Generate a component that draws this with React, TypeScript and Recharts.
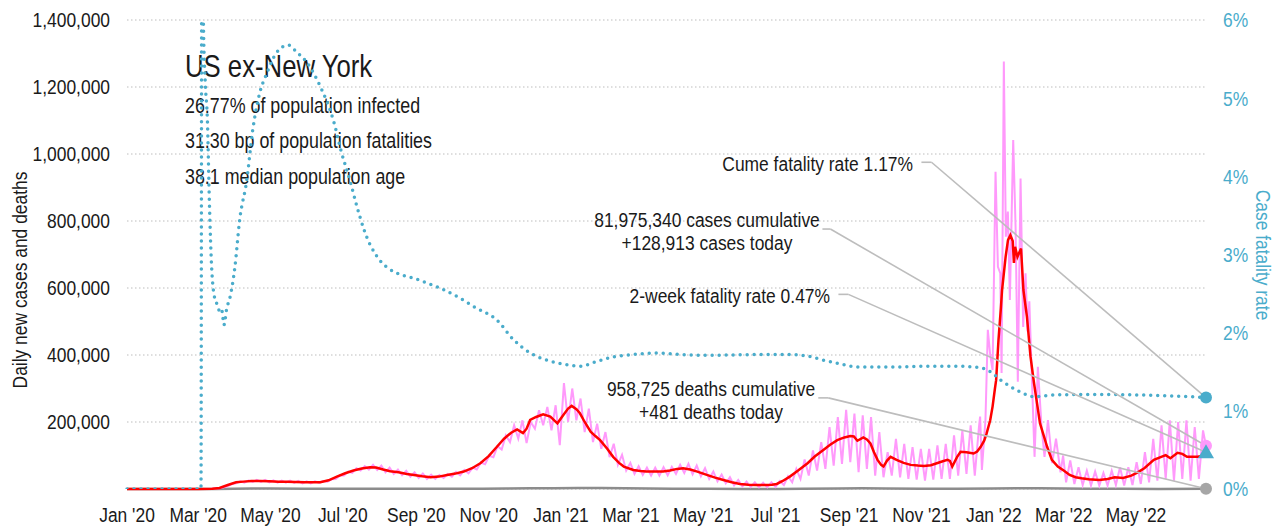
import React from 'react';
import {
  ComposedChart, Line, XAxis, YAxis, CartesianGrid,
  ReferenceLine, ReferenceDot, Customized,
} from 'recharts';

const FONT = "'Liberation Sans', Arial, sans-serif";
const SQUEEZE = 0.83;

// ---- axes ----
const xTickDays = [0, 60, 121, 182, 244, 305, 366, 425, 486, 547, 609, 670, 731, 790, 851];
const xTickLabels = ["Jan '20", "Mar '20", "May '20", "Jul '20", "Sep '20", "Nov '20", "Jan '21", "Mar '21", "May '21", "Jul '21", "Sep '21", "Nov '21", "Jan '22", "Mar '22", "May '22"];
const leftTicks = [0, 200000, 400000, 600000, 800000, 1000000, 1200000, 1400000];
const rightTicks = [0, 1, 2, 3, 4, 5, 6];
const LAST_DAY = 910;

// ---- 7-day average of daily cases (thousands) ----
const avgDays = [0, 60, 72, 78, 85, 92, 98, 105, 112, 120, 128, 135, 142, 150, 157, 163, 170, 177, 184, 191, 198, 205, 210, 216, 222, 229, 236, 242, 249, 256, 263, 270, 277, 284, 291, 298, 305, 312, 318, 324, 329, 334, 337, 340, 345, 351, 357, 363, 368, 372, 375, 379, 382, 386, 391, 395, 399, 405, 410, 415, 419, 427, 433, 438, 445, 452, 458, 464, 469, 475, 481, 489, 496, 503, 510, 517, 524, 531, 538, 544, 548, 553, 559, 566, 574, 580, 587, 593, 599, 605, 610, 613, 616, 621, 624, 627, 630, 633, 636, 638, 641, 644, 649, 655, 661, 667, 672, 678, 683, 688, 692, 694, 696, 700, 703, 708, 714, 717, 720, 723, 725, 728, 730, 732, 733, 735, 737, 738, 741, 743, 745, 747, 748, 749, 751, 754, 756, 759, 762, 765, 770, 776, 780, 785, 790, 795, 800, 805, 811, 820, 827, 833, 840, 847, 852, 858, 866, 876, 880, 886, 890, 894, 903, 910];
const avgCases = [0, 0, 1, 3, 12, 20, 22, 24, 24, 23, 22, 22, 21, 20, 20, 20, 26, 37, 47, 55, 61, 65, 64, 58, 53, 50, 45, 42, 38, 35, 37, 42, 46, 52, 62, 77, 98, 126, 150, 168, 178, 167, 180, 206, 215, 223, 216, 196, 221, 240, 248, 238, 226, 200, 171, 158, 146, 120, 96, 78, 67, 57, 54, 52, 52, 52, 55, 60, 62, 58, 52, 42, 34, 27, 20, 15, 13, 12, 12, 13, 15, 24, 37, 55, 77, 97, 116, 132, 146, 154, 158, 157, 144, 154, 148, 136, 110, 87, 72, 67, 85, 96, 87, 78, 72, 70, 69, 71, 77, 83, 87, 84, 67, 95, 111, 110, 106, 112, 126, 145, 166, 205, 246, 300, 325, 445, 540, 594, 693, 743, 758, 740, 675, 723, 693, 718, 594, 514, 395, 315, 196, 126, 87, 67, 55, 42, 35, 32, 29, 27, 30, 35, 33, 40, 49, 62, 87, 101, 92, 108, 105, 96, 96, 101];

// ---- daily new cases (thousands): weekly low / high readings ----
const dailyLowPre = [0, 0, 0, 0, 0, 0, 0, 0, 0, 0, 0.5, 2, 9, 17, 19, 21, 21, 20, 19, 19, 18, 17, 17, 18, 22, 30, 40, 48, 55, 58, 57, 50, 45, 41, 37, 33, 30, 30, 33, 37, 41, 47, 58, 74, 95, 118, 140, 150, 137, 180, 190, 175, 131, 200, 205, 170, 140, 120, 95, 72, 55, 45, 42, 40, 40, 41, 45, 48, 44, 38, 30, 23, 17, 11, 8, 6, 5, 5, 6, 12, 20, 30, 40, 55, 60, 70, 75, 80, 50, 60, 40, 35, 40, 35, 30, 28, 25, 28, 30, 30, 40, 45, 40];
const dailyHighPre = [0, 0, 0, 0, 0, 0, 0, 0, 0.1, 0.3, 1.5, 5, 15, 23, 25, 27, 27, 26, 25, 25, 24, 23, 23, 24, 29, 40, 52, 62, 68, 72, 70, 64, 58, 54, 50, 46, 43, 42, 45, 51, 57, 64, 79, 99, 128, 160, 190, 205, 200, 235, 245, 250, 316, 300, 270, 240, 195, 170, 135, 102, 78, 68, 64, 64, 65, 66, 72, 75, 70, 62, 52, 43, 35, 27, 22, 20, 19, 20, 24, 38, 60, 88, 115, 140, 185, 215, 236, 225, 220, 215, 170, 110, 150, 135, 125, 120, 120, 130, 135, 160, 175, 190, 185];
const omicronDays = [719.5, 721, 724, 726, 728, 730, 732.5, 734.5, 736.5, 737.6, 739.5, 741.2, 742.9, 744.6, 747.4, 749.4, 751.3, 753.6, 755.8, 757.8, 759.5, 761, 763, 765.4, 768.2, 771.3, 773.8, 776.7, 780.3, 783.5, 787.3, 789.5];
const omicronCases = [216, 57, 206, 475, 400, 355, 947, 663, 644, 346, 1276, 753, 828, 564, 1042, 783, 320, 927, 484, 644, 470, 560, 346, 96, 365, 186, 96, 206, 77, 150, 50, 100];
const dailyLowPost = [20, 15, 12, 10, 10, 10, 12, 10, 12, 15, 20, 25, 30, 25, 30, 25, 30];
const dailyHighPost = [85, 65, 55, 52, 48, 55, 65, 65, 80, 110, 150, 190, 205, 200, 205, 185, 175];
const casesToday = 128913;

// ---- cumulative case fatality rate (%) ----
const cfrDays = [0, 30, 62.4, 63.2, 64.4, 66, 67.8, 69.5, 71.5, 74.3, 76.5, 78.5, 80, 81.8, 84, 87, 91, 95, 101, 106, 112, 118, 126, 136, 143, 152, 163, 174, 181, 188, 194, 201, 211, 219, 247, 264, 281, 294, 312, 326, 340, 354, 371, 382, 396, 410, 427, 447, 467, 489, 532, 559, 574, 587, 602, 616, 644, 672, 700, 720, 728, 737, 745, 751, 758, 765, 779, 807, 863, 910];
const cfrPct = [0, 0, 0, 8.5, 6.0, 5.2, 4.72, 3.66, 2.8, 2.42, 2.35, 2.25, 2.28, 2.10, 2.3, 2.46, 2.84, 3.44, 3.95, 4.59, 5.07, 5.32, 5.58, 5.68, 5.59, 5.45, 5.15, 4.72, 4.30, 3.95, 3.61, 3.27, 2.97, 2.84, 2.67, 2.57, 2.44, 2.32, 2.16, 1.91, 1.74, 1.65, 1.59, 1.57, 1.63, 1.69, 1.72, 1.74, 1.72, 1.71, 1.72, 1.72, 1.70, 1.65, 1.60, 1.56, 1.56, 1.57, 1.57, 1.55, 1.50, 1.39, 1.31, 1.26, 1.21, 1.18, 1.20, 1.21, 1.20, 1.17];
const twoWeekCfr = 0.47;

// ---- daily deaths (thousands) ----
const deathDays = [0, 60, 75, 90, 105, 120, 150, 180, 200, 220, 250, 280, 300, 320, 340, 360, 380, 400, 420, 440, 460, 490, 520, 550, 570, 600, 620, 640, 670, 700, 730, 750, 770, 790, 810, 840, 870, 910];
const deathVals = [0, 0, 0.1, 0.8, 1.3, 1.3, 0.9, 0.6, 1.0, 1.1, 0.8, 0.7, 0.8, 1.3, 2.2, 2.5, 3.1, 2.8, 1.9, 1.2, 0.8, 0.6, 0.3, 0.25, 0.5, 1.3, 1.9, 1.6, 1.1, 1.1, 1.3, 2.0, 2.4, 1.8, 0.9, 0.4, 0.3, 0.481];

// ---- build series tables ----
const avgData = avgDays.map((d, i) => ({ d, v: avgCases[i] * 1000 }));
const dailyData: { d: number; v: number }[] = [{ d: 0, v: 0 }];
dailyLowPre.forEach((lo, w) => {
  dailyData.push({ d: 7 * w + 1, v: lo * 1000 });
  dailyData.push({ d: 7 * w + 4.5, v: dailyHighPre[w] * 1000 });
});
omicronDays.forEach((d, i) => dailyData.push({ d, v: omicronCases[i] * 1000 }));
dailyLowPost.forEach((lo, i) => {
  const w = 113 + i;
  dailyData.push({ d: 7 * w + 1, v: lo * 1000 });
  dailyData.push({ d: 7 * w + 4.5, v: dailyHighPost[i] * 1000 });
});
dailyData.push({ d: LAST_DAY, v: casesToday });
const cfrData = cfrDays.map((d, i) => ({ d, v: cfrPct[i] }));
const deathData = deathDays.map((d, i) => ({ d, v: deathVals[i] * 1000 }));

const lastCfr = cfrPct[cfrPct.length - 1];
const lastDeaths = deathVals[deathVals.length - 1] * 1000;

// leader line anchors (data coordinates)
const leaders = [
  { axis: 'right', sx: 670, kx: 678.5, sy: 4.18, ey: lastCfr },
  { axis: 'left', sx: 586.5, kx: 593.2, sy: 776000, ey: casesToday },
  { axis: 'right', sx: 600, kx: 608.4, sy: 2.49, ey: twoWeekCfr },
  { axis: 'left', sx: 583, kx: 591.4, sy: 272000, ey: lastDeaths },
];

const TEAL = '#4aaccb';
const PINK = '#ff99fb';
const RED = '#ff0000';
const TEXT = '#1a1a1a';

type NTProps = {
  x: number; y: number; size: number; fill?: string; anchor?: string;
  dy?: string; rotate?: number; children: React.ReactNode;
};
const NText = ({ x, y, size, fill = TEXT, anchor = 'start', dy, rotate = 0, children }: NTProps) => (
  <g transform={`translate(${x},${y}) rotate(${rotate})`}>
    <text transform={`scale(${SQUEEZE},1)`} x={0} y={0} dy={dy} fontSize={size} fill={fill}
      textAnchor={anchor} fontFamily={FONT}>
      {children}
    </text>
  </g>
);

const XTick = (props: any) => {
  const { x, y, payload } = props;
  const label = xTickLabels[xTickDays.indexOf(payload.value)] ?? '';
  return <NText x={x} y={y} size={21} anchor="middle" dy="0.71em">{label}</NText>;
};
const LeftTick = (props: any) => {
  const { x, y, payload } = props;
  const v = Number(payload.value);
  return <NText x={x} y={y} size={21} anchor="end" dy="0.355em">{v === 0 ? '' : v.toLocaleString('en-US')}</NText>;
};
const RightTick = (props: any) => {
  const { x, y, payload } = props;
  return <NText x={x} y={y} size={21} anchor="start" dy="0.355em" fill={TEAL}>{`${payload.value}%`}</NText>;
};

const Annotations = () => (
  <g>
    <NText x={185} y={77} size={31}>US ex-New York</NText>
    <NText x={185} y={113} size={21.5}>26.77% of population infected</NText>
    <NText x={185} y={148} size={21.5}>31.30 bp of population fatalities</NText>
    <NText x={185} y={184} size={21.5}>38.1 median population age</NText>

    <NText x={913} y={171} size={21} anchor="end">Cume fatality rate 1.17%</NText>
    <NText x={707} y={227} size={21} anchor="middle">81,975,340 cases cumulative</NText>
    <NText x={707} y={250} size={21} anchor="middle">+128,913 cases today</NText>
    <NText x={830} y={303} size={21} anchor="end">2-week fatality rate 0.47%</NText>
    <NText x={711} y={396} size={21} anchor="middle">958,725 deaths cumulative</NText>
    <NText x={711} y={419} size={21} anchor="middle">+481 deaths today</NText>

    <NText x={20} y={280} size={21} anchor="middle" dy="0.355em" rotate={-90}>Daily new cases and deaths</NText>
    <NText x={1263} y={255} size={21} anchor="middle" dy="0.355em" rotate={90} fill={TEAL}>Case fatality rate</NText>
  </g>
);

const Triangle = (props: any) => {
  const { cx, cy } = props;
  return <polygon points={`${cx},${cy - 8} ${cx - 8},${cy + 6} ${cx + 8},${cy + 6}`} fill={TEAL} />;
};

export default function App() {
  return (
    <div style={{ position: 'absolute', left: 0, top: 0, width: 1281, height: 529, background: '#fff' }}>
      <ComposedChart width={1281} height={529} margin={{ top: 20, right: 0, bottom: 0, left: 10 }}>
        <CartesianGrid yAxisId="left" horizontal vertical={false} stroke="#bdbdbd" strokeDasharray="1.5 2.5" />
        <XAxis
          type="number" dataKey="d" domain={[0, LAST_DAY]} ticks={xTickDays} interval={0}
          axisLine={false} tickLine={false} height={40} tickMargin={12}
          tick={<XTick />}
        />
        <YAxis
          yAxisId="left" domain={[0, 1400000]} ticks={leftTicks} width={117}
          axisLine={false} tickLine={false} tickMargin={11}
          tick={<LeftTick />}
        />
        <YAxis
          yAxisId="right" orientation="right" domain={[0, 6]} ticks={rightTicks} width={75}
          allowDataOverflow
          axisLine={false} tickLine={false} tickMargin={11}
          tick={<RightTick />}
        />
        <Customized component={<Annotations />} />

        <Line yAxisId="left" data={deathData} dataKey="v" type="linear" stroke="#8c8c8c" strokeWidth={2.5} dot={false} activeDot={false} isAnimationActive={false} />
        <Line yAxisId="left" data={dailyData} dataKey="v" type="linear" stroke={PINK} strokeWidth={2} dot={false} activeDot={false} isAnimationActive={false} />
        <Line yAxisId="left" data={avgData} dataKey="v" type="linear" stroke={RED} strokeWidth={2.5} dot={false} activeDot={false} isAnimationActive={false} />
        <Line yAxisId="right" data={cfrData} dataKey="v" type="monotone" stroke={TEAL} strokeWidth={3.5} strokeDasharray="0 7" strokeLinecap="round" dot={false} activeDot={false} isAnimationActive={false} />

        {leaders.map((l, i) => (
          <ReferenceLine key={`h${i}`} yAxisId={l.axis} ifOverflow="visible" stroke="#bdbdbd" strokeWidth={1.6}
            segment={[{ x: l.sx, y: l.sy }, { x: l.kx, y: l.sy }]} />
        ))}
        {leaders.map((l, i) => (
          <ReferenceLine key={`d${i}`} yAxisId={l.axis} ifOverflow="visible" stroke="#bdbdbd" strokeWidth={1.6}
            segment={[{ x: l.kx, y: l.sy }, { x: LAST_DAY, y: l.ey }]} />
        ))}

        <ReferenceDot yAxisId="left" x={LAST_DAY} y={lastDeaths} r={6} fill="#a6a6a6" stroke="none" ifOverflow="visible" />
        <ReferenceDot yAxisId="left" x={LAST_DAY} y={casesToday} r={6} fill={PINK} stroke="none" ifOverflow="visible" />
        <ReferenceDot yAxisId="right" x={LAST_DAY} y={lastCfr} r={6} fill={TEAL} stroke="none" ifOverflow="visible" />
        <ReferenceDot yAxisId="right" x={LAST_DAY} y={twoWeekCfr} r={7} ifOverflow="visible" shape={<Triangle />} />
      </ComposedChart>
    </div>
  );
}
